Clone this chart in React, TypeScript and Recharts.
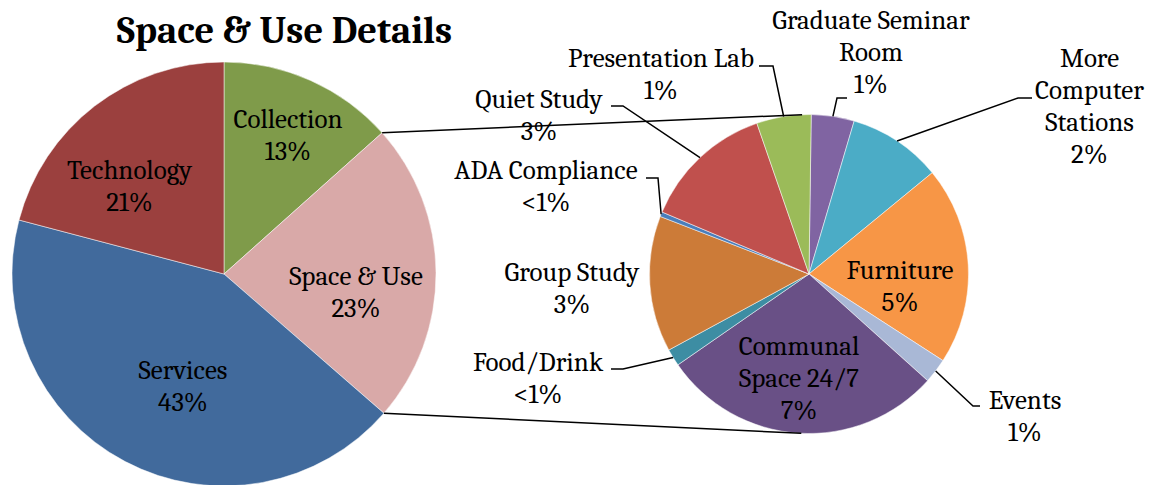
import React from 'react';
import { PieChart, Pie, Cell } from 'recharts';

// ---------- data ----------
const chartTitle = 'Space & Use Details';

const mainCategories = ['Collection', 'Space & Use', 'Services', 'Technology'];
const mainValues = [13.4, 23.0, 42.7, 20.9];

const detailCategories = [
  'Graduate Seminar\nRoom',
  'More\nComputer\nStations',
  'Furniture',
  'Events',
  'Communal\nSpace 24/7',
  'Food/Drink',
  'Group Study',
  'ADA Compliance',
  'Quiet Study',
  'Presentation Lab',
];
const detailValues = [1.0, 2.18, 4.62, 0.58, 6.6, 0.4, 3.17, 0.11, 3.07, 1.27];

// ---------- styles / layout ----------
const mainColors = ['#7F9B4A', '#D9A9A8', '#416A9C', '#9B403E'];
const detailColors = ['#8064A2', '#4BACC6', '#F79646', '#A9B8D6', '#695086', '#3D8DA3', '#CC7B38', '#4A7EBB', '#C0504D', '#9BBB59'];

const W = 1159;
const H = 485;
const MAIN = { cx: 224, cy: 274, r: 212, start: 90 };
const DETAIL = { cx: 809, cy: 274, r: 159.5, start: 89.2 };
const FONT = "Cambria, 'Liberation Serif', serif";
const FONT_SIZE = 27;
const LINE_H = 32;

// label block centres relative to pie centre
const mainLabelPos: number[][] = [[64, -139], [132, 18], [-41, 112.5], [-94.5, -88]];
const detailLabelPos: number[][] = [
  [62, -222], [280.5, -168.4], [91, 12.5], [216, 142.5], [-10, 104],
  [-271, 104], [-237, 14], [-263, -88], [-270, -159], [-148, -199.5],
];
// leader elbows relative to pie centre (null = no leader)
const detailLeaders: (number[][] | null)[] = [
  [[28, -176], [38, -176]],
  [[209, -176], [223, -176]],
  null,
  [[164, 132], [171, 132]],
  null,
  [[-186, 95], [-198, 95]],
  null,
  [[-151, -96], [-163, -96]],
  [[-186, -168], [-198, -168]],
  [[-36, -208], [-50, -208]],
];

const RAD = Math.PI / 180;
const polar = (cx: number, cy: number, r: number, a: number) => [cx + r * Math.cos(-a * RAD), cy + r * Math.sin(-a * RAD)];
const pctText = (v: number) => (Math.round(v) === 0 ? '<1%' : `${Math.round(v)}%`);

const mainData = mainCategories.map((name, i) => ({ name, value: mainValues[i] }));
const detailData = detailCategories.map((name, i) => ({ name, value: detailValues[i] }));

function tangentPoint(px: number, py: number, cx: number, cy: number, r: number, upper: boolean) {
  const dx = px - cx;
  const dy = py - cy;
  const d = Math.hypot(dx, dy);
  const base = Math.atan2(dy, dx);
  const off = Math.acos(r / d);
  const p1 = [cx + r * Math.cos(base + off), cy + r * Math.sin(base + off)];
  const p2 = [cx + r * Math.cos(base - off), cy + r * Math.sin(base - off)];
  if (upper) return p1[1] < p2[1] ? p1 : p2;
  return p1[1] > p2[1] ? p1 : p2;
}

function TextBlock({ x, y, lines }: { x: number; y: number; lines: string[] }) {
  const first = y - ((lines.length - 1) * LINE_H) / 2;
  return (
    <text x={x} textAnchor="middle" fontFamily={FONT} fontSize={FONT_SIZE} fill="#000">
      {lines.map((ln, i) => (
        <tspan key={i} x={x} y={first + i * LINE_H + FONT_SIZE * 0.33}>
          {ln}
        </tspan>
      ))}
    </text>
  );
}

const mainTotal = mainValues.reduce((a, b) => a + b, 0);

const renderMainLabel = (props: any) => {
  const { cx, cy, index } = props;
  const [dx, dy] = mainLabelPos[index];
  const lines = [mainCategories[index], pctText((mainValues[index] / mainTotal) * 100)];
  let connectors: React.ReactNode = null;
  if (index === 1) {
    let sa = props.startAngle;
    let ea = props.endAngle;
    if (typeof sa !== 'number' || typeof ea !== 'number') {
      sa = MAIN.start - (360 * mainValues[0]) / mainTotal;
      ea = sa - (360 * mainValues[1]) / mainTotal;
    }
    const r = props.outerRadius ?? MAIN.r;
    const pA = polar(cx, cy, r, sa);
    const pB = polar(cx, cy, r, ea);
    const topA = pA[1] < pB[1] ? pA : pB;
    const botA = pA[1] < pB[1] ? pB : pA;
    const t1 = tangentPoint(topA[0], topA[1], DETAIL.cx, DETAIL.cy, DETAIL.r, true);
    const t2 = tangentPoint(botA[0], botA[1], DETAIL.cx, DETAIL.cy, DETAIL.r, false);
    connectors = (
      <g>
        <line x1={topA[0]} y1={topA[1]} x2={t1[0]} y2={t1[1]} stroke="#000" strokeWidth={1.5} />
        <line x1={botA[0]} y1={botA[1]} x2={t2[0]} y2={t2[1]} stroke="#000" strokeWidth={1.5} />
      </g>
    );
  }
  return (
    <g key={`ml-${index}`}>
      {connectors}
      <TextBlock x={cx + dx} y={cy + dy} lines={lines} />
    </g>
  );
};

const renderDetailLabel = (props: any) => {
  const { cx, cy, index, midAngle, outerRadius } = props;
  const [dx, dy] = detailLabelPos[index];
  const lines = [...detailCategories[index].split('\n'), pctText(detailValues[index])];
  const leader = detailLeaders[index];
  let path: React.ReactNode = null;
  if (leader) {
    const s = polar(cx, cy, outerRadius, midAngle);
    const pts = [s, ...leader.map(([lx, ly]) => [cx + lx, cy + ly])];
    path = <polyline points={pts.map((p) => `${p[0]},${p[1]}`).join(' ')} fill="none" stroke="#000" strokeWidth={1.5} />;
  }
  return (
    <g key={`dl-${index}`}>
      {path}
      <TextBlock x={cx + dx} y={cy + dy} lines={lines} />
    </g>
  );
};

export default function App() {
  return (
    <div style={{ position: 'absolute', left: 0, top: 0, width: W, height: H, background: '#fff' }}>
      <PieChart width={W} height={H} margin={{ top: 0, right: 0, bottom: 0, left: 0 }}>
        <Pie
          data={mainData}
          dataKey="value"
          nameKey="name"
          cx={MAIN.cx}
          cy={MAIN.cy}
          outerRadius={MAIN.r}
          startAngle={MAIN.start}
          endAngle={MAIN.start - 360}
          stroke="#fff"
          strokeWidth={0.5}
          isAnimationActive={false}
          labelLine={false}
          label={renderMainLabel}
        >
          {mainData.map((d, i) => (
            <Cell key={d.name} fill={mainColors[i]} />
          ))}
        </Pie>
        <Pie
          data={detailData}
          dataKey="value"
          nameKey="name"
          cx={DETAIL.cx}
          cy={DETAIL.cy}
          outerRadius={DETAIL.r}
          startAngle={DETAIL.start}
          endAngle={DETAIL.start - 360}
          stroke="#fff"
          strokeWidth={0.5}
          isAnimationActive={false}
          labelLine={false}
          label={renderDetailLabel}
        >
          {detailData.map((d, i) => (
            <Cell key={d.name} fill={detailColors[i]} />
          ))}
        </Pie>
      </PieChart>
      <svg width={W} height={60} style={{ position: 'absolute', left: 0, top: 0, pointerEvents: 'none' }}>
        <text x={284.5} y={43} textAnchor="middle" fontFamily={FONT} fontWeight="bold" fontSize={38.5} fill="#000">
          {chartTitle}
        </text>
      </svg>
    </div>
  );
}
